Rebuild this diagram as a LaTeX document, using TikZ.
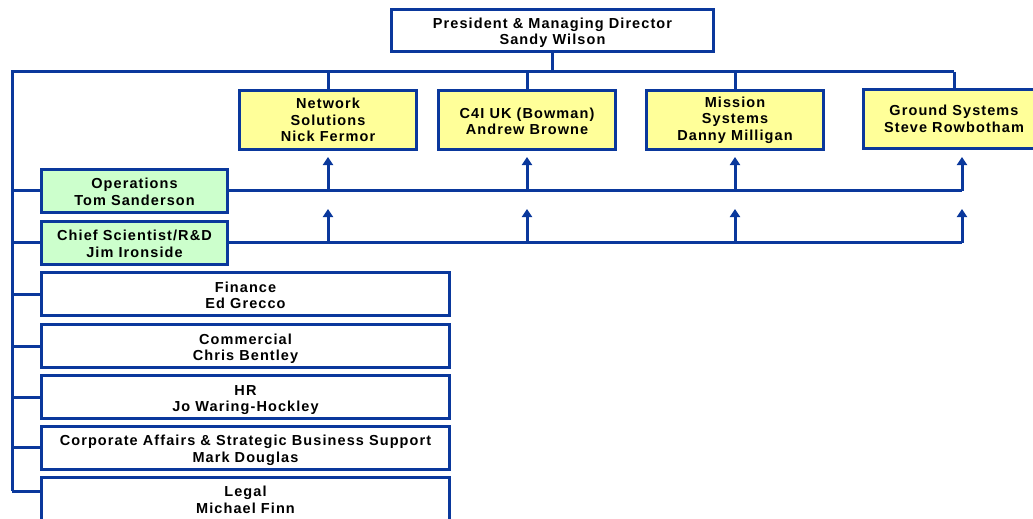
\documentclass[tikz,border=0pt]{standalone}
\usepackage{fontspec}
\setmainfont{Liberation Sans}[LetterSpace=7.5]
\usepackage{xcolor}
\usepackage{tikz}
\usetikzlibrary{calc,arrows.meta,positioning}
\definecolor{linec}{HTML}{0A389C}
\definecolor{divfill}{HTML}{FFFF99}
\definecolor{supfill}{HTML}{CCFFCC}
\tikzset{
  ln/.style={line width=3pt,linec},
  ar/.style={-{Triangle[length=8pt,width=10pt]},line width=3pt,linec},
  post/.style={draw=linec,line width=3pt,fill=white,align=center,inner sep=2pt,
    font=\fontsize{14.5}{16.5}\selectfont\bfseries},
  low/.style={text height=29pt,text depth=0pt},
  div/.style={post,fill=divfill,minimum width=177pt,minimum height=59pt},
  sup/.style={post,low,fill=supfill,minimum width=186pt,minimum height=43pt},
  staff/.style={post,low,minimum width=408pt,minimum height=43pt}
}

\begin{document}
\begin{tikzpicture}[x=1pt,y=-1pt]
\useasboundingbox (0,0) rectangle (1033,519);
\clip (0,0) rectangle (1033,519);
% top of the tree
\node[post,low,minimum width=322pt,minimum height=42pt] (pres) at (552.5,30.5)
  {President \& Managing Director\\Sandy Wilson};
% divisions
\node[div] (net) at (328,120) {Network\\Solutions\\Nick Fermor};
\node[div,low] (c4i) at (527,120) {C4I UK (Bowman)\\Andrew Browne};
\node[div] (mis) at (735,120) {Mission\\Systems\\Danny Milligan};
\node[div,minimum width=182pt] (gnd) at (954,119) {Ground Systems\\Steve Rowbotham};
% support functions
\node[sup] (ops) at (134.5,190.5) {Operations\\Tom Sanderson};
\node[sup] (cso) at (134.5,242.5) {Chief Scientist/R\&D\\Jim Ironside};
% staff functions
\node[staff] (fin) at (245.5,294) {Finance\\Ed Grecco};
\node[staff] (com) at (245.5,346) {Commercial\\Chris Bentley};
\node[staff] (hr) at (245.5,397) {HR\\Jo Waring-Hockley};
\node[staff] (corp) at (245.5,447.5) {Corporate Affairs \& Strategic Business Support\\Mark Douglas};
\node[staff] (leg) at (245.5,498.5) {Legal\\Michael Finn};

\coordinate (tl) at (12,72);
\coordinate (gin) at ([xshift=8pt]gnd.south);
\coordinate (lin) at ([yshift=7.5pt]leg.west);

% bus and left trunk
\draw[ln] (pres.south) -- (pres.south |- tl);
\draw[ln] (gnd.north |- tl) -- (tl) -- (tl |- lin);
\draw[ln] (net.north) -- (net.north |- tl);
\draw[ln] (c4i.north) -- (c4i.north |- tl);
\draw[ln] (mis.north) -- (mis.north |- tl);
\draw[ln] (gnd.north) -- (gnd.north |- tl);
\draw[ln] (ops.west -| tl) -- (ops.west);
\draw[ln] (cso.west -| tl) -- (cso.west);
\draw[ln] (fin.west -| tl) -- (fin.west);
\draw[ln] (com.west -| tl) -- (com.west);
\draw[ln] (hr.west -| tl) -- (hr.west);
\draw[ln] (corp.west -| tl) -- (corp.west);
\draw[ln] (lin -| tl) -- (lin);

% support lines into the divisions
\draw[ln] (ops.east) -- (ops.east -| gin);
\draw[ln] (cso.east) -- (cso.east -| gin);
\foreach \d in {net,c4i,mis}{
  \draw[ar] (\d.south |- ops.east) -- ([yshift=-6pt]\d.south);
  \draw[ar] (\d.south |- cso.east) -- ([yshift=-58pt]\d.south);
}
\draw[ar] (gin |- ops.east) -- ([yshift=-7pt]gin);
\draw[ar] (gin |- cso.east) -- ([yshift=-59pt]gin);
\end{tikzpicture}
\end{document}
